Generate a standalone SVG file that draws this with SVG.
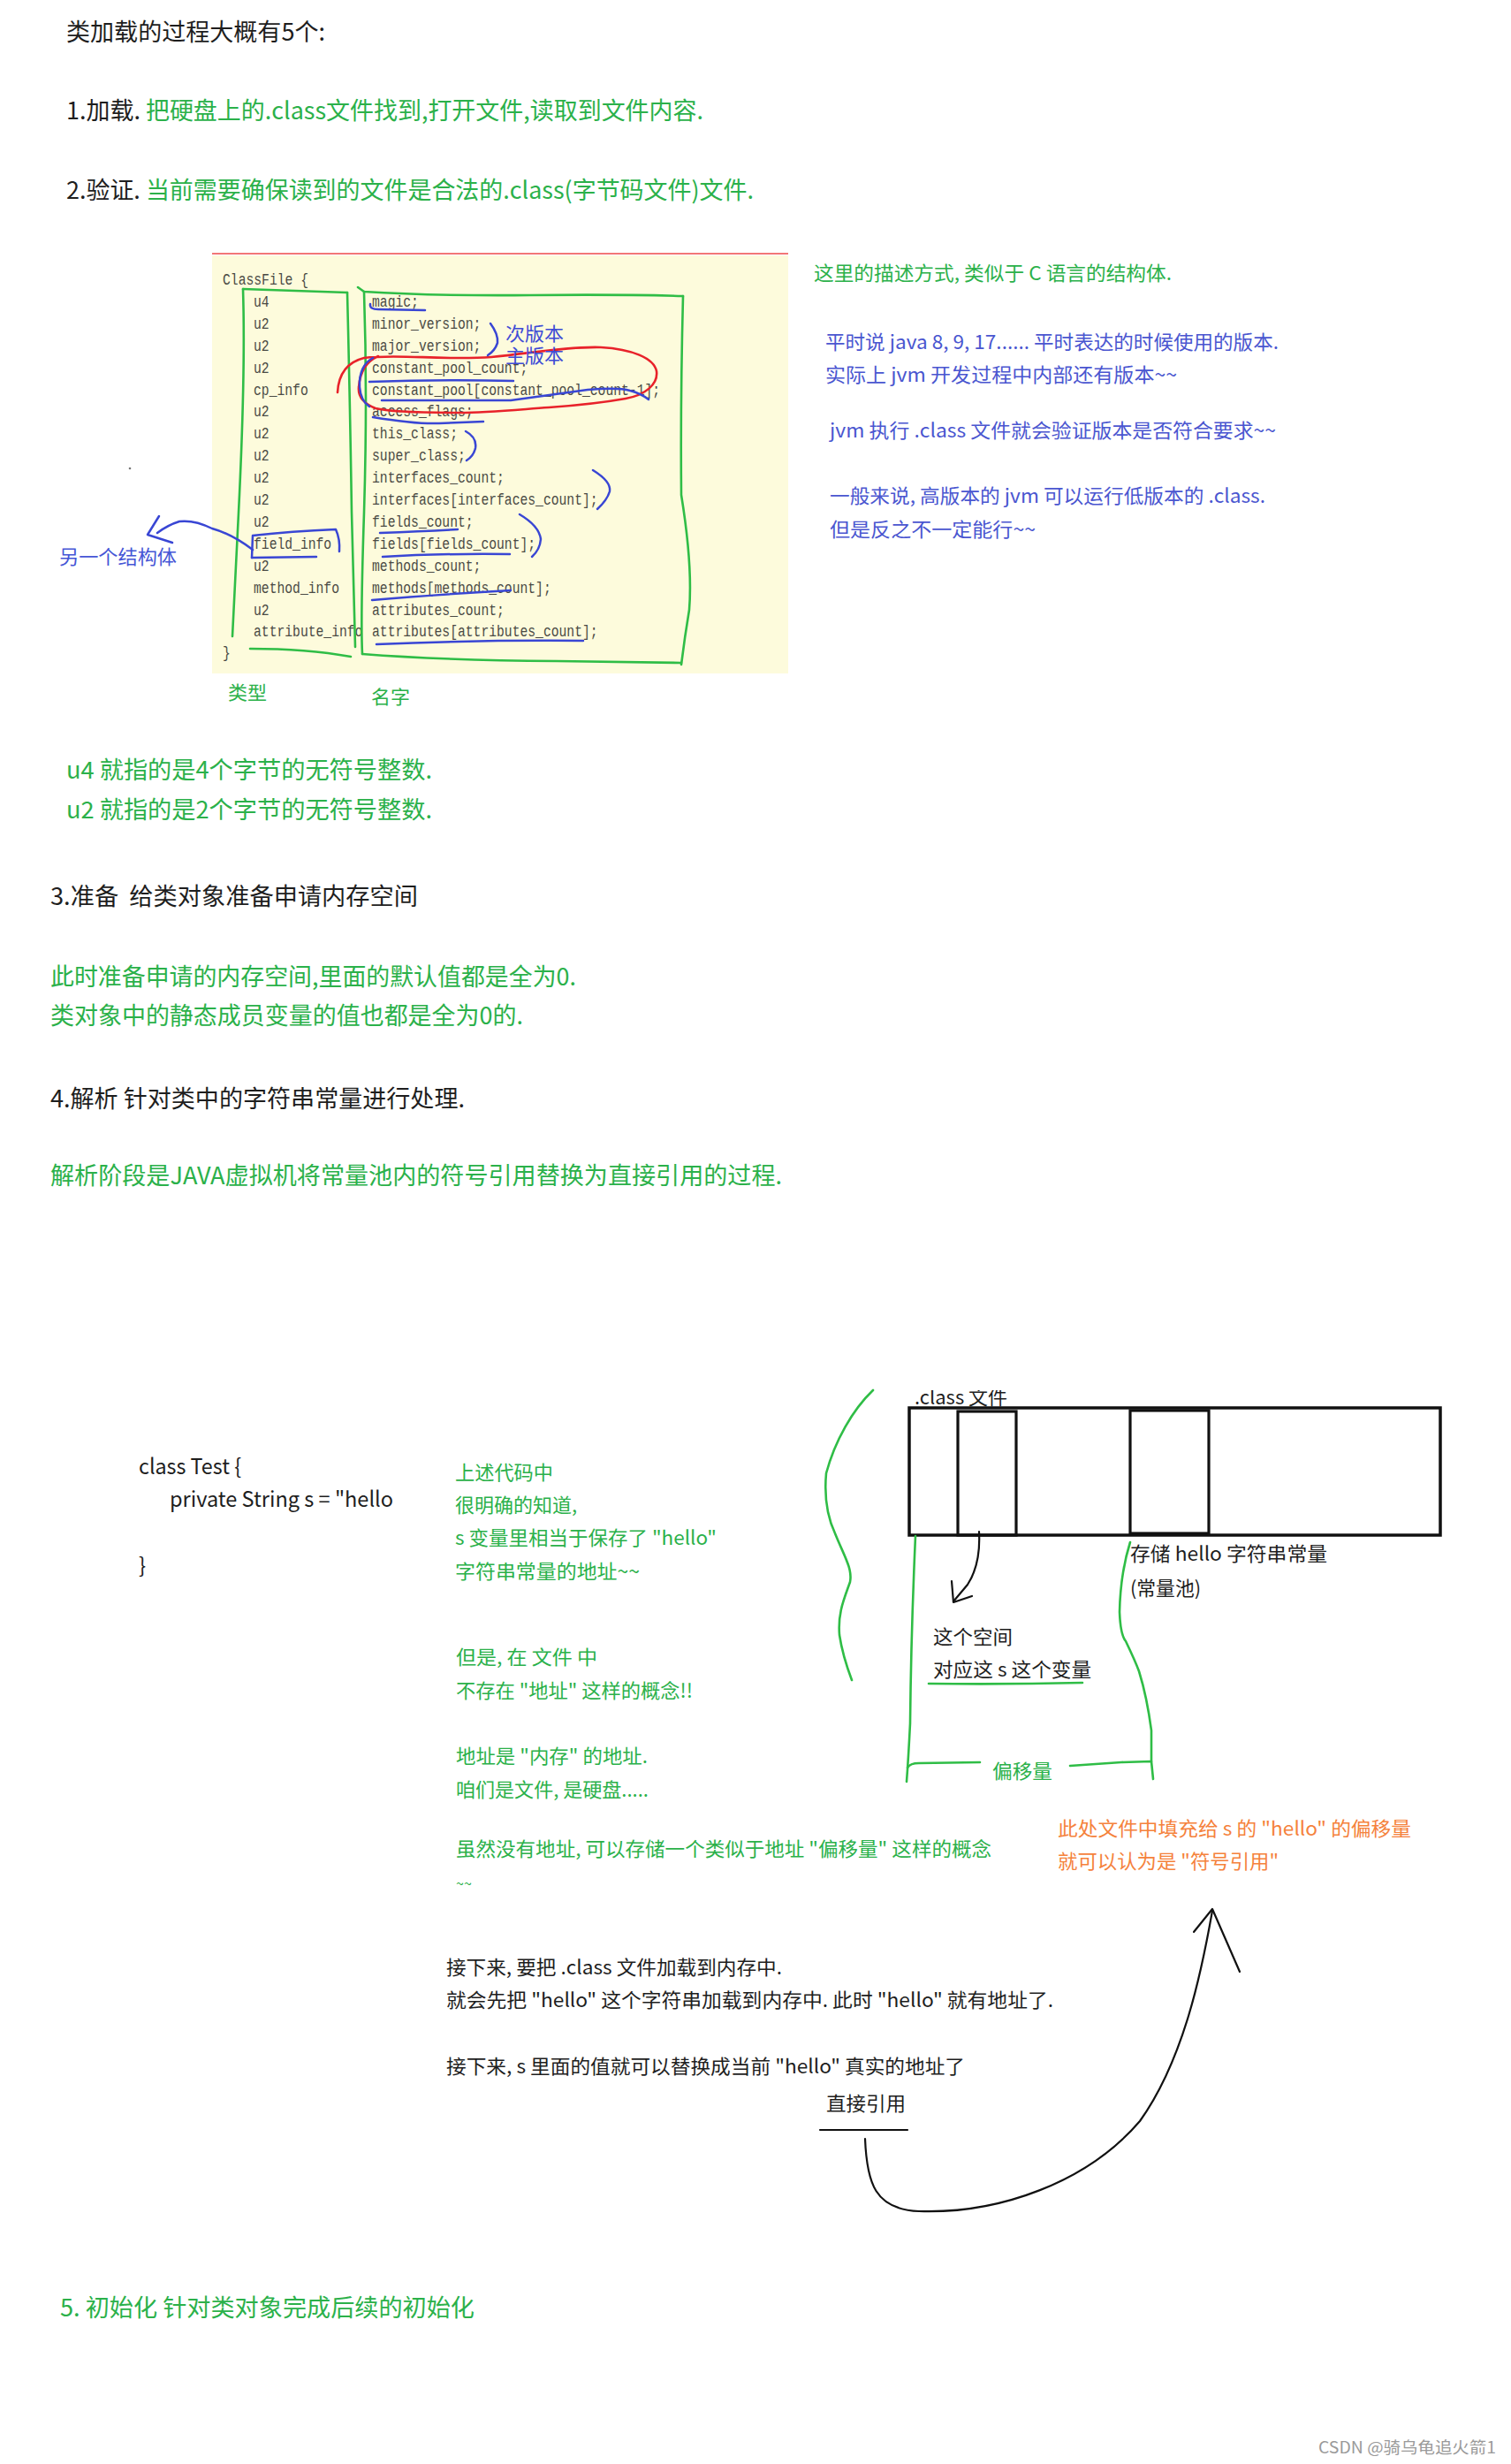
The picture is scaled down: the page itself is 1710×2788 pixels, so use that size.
<svg xmlns="http://www.w3.org/2000/svg" width="1710" height="2788" viewBox="0 0 1710 2788">
<style>
text{font-family:"Noto Sans CJK SC","Noto Sans",sans-serif;}
.k{fill:#1e1e1e}
.g{fill:#2bb14a}
.b{fill:#4a56d0}
.o{fill:#f5823c}
.h{font-size:27px}
.n{font-size:22px}
.mono{font-family:"Liberation Mono",monospace;font-size:17.6px;fill:#4a4a44}
.pg{fill:none;stroke:#2fbd46;stroke-width:2.6;stroke-linecap:round;stroke-linejoin:round}
.pb{fill:none;stroke:#3946d4;stroke-width:2.5;stroke-linecap:round;stroke-linejoin:round}
.pr{fill:none;stroke:#e8222a;stroke-width:2.6;stroke-linecap:round;stroke-linejoin:round}
.pk{fill:none;stroke:#111;stroke-width:2.2;stroke-linecap:round;stroke-linejoin:round}
</style>
<defs>
<clipPath id="clipTop"><rect x="1000" y="1573" width="300" height="40"/></clipPath>
</defs>
<rect width="1710" height="2788" fill="#ffffff"/>

<g id="intro">
<text class="k h" x="75" y="46" textLength="293" lengthAdjust="spacingAndGlyphs">类加载的过程大概有5个:</text>
<text class="h" x="75" y="135" textLength="721" lengthAdjust="spacingAndGlyphs"><tspan class="k">1.加载.</tspan><tspan class="g"> 把硬盘上的.class文件找到,打开文件,读取到文件内容.</tspan></text>
<text class="h" x="75" y="225" textLength="778" lengthAdjust="spacingAndGlyphs"><tspan class="k">2.验证.</tspan><tspan class="g"> 当前需要确保读到的文件是合法的.class(字节码文件)文件.</tspan></text>
</g>

<g id="classfile-image">
<rect x="240" y="289" width="652" height="473" fill="#fdfbdc"/>
<line x1="240" y1="287" x2="892" y2="287" stroke="#f27676" stroke-width="2"/>
<g transform="translate(252,0) scale(0.835,1)">
<text class="mono" x="0" y="322" fill="#5a5a55">ClassFile {</text>
<text class="mono" x="0" y="744" fill="#aaa">}</text>
</g>
<g id="types" transform="translate(287,0) scale(0.835,1)">
<text class="mono" x="0" y="347">u4</text>
<text class="mono" x="0" y="371.9">u2</text>
<text class="mono" x="0" y="396.8">u2</text>
<text class="mono" x="0" y="421.7">u2</text>
<text class="mono" x="0" y="446.6">cp_info</text>
<text class="mono" x="0" y="471.5">u2</text>
<text class="mono" x="0" y="496.4">u2</text>
<text class="mono" x="0" y="521.3">u2</text>
<text class="mono" x="0" y="546.2">u2</text>
<text class="mono" x="0" y="571.1">u2</text>
<text class="mono" x="0" y="596">u2</text>
<text class="mono" x="0" y="620.9">field_info</text>
<text class="mono" x="0" y="645.8">u2</text>
<text class="mono" x="0" y="670.7">method_info</text>
<text class="mono" x="0" y="695.6">u2</text>
<text class="mono" x="0" y="720.5">attribute_info</text>
</g>
<g id="names" transform="translate(421,0) scale(0.835,1)">
<text class="mono" x="0" y="347">magic;</text>
<text class="mono" x="0" y="371.9">minor_version;</text>
<text class="mono" x="0" y="396.8">major_version;</text>
<text class="mono" x="0" y="421.7">constant_pool_count;</text>
<text class="mono" x="0" y="446.6">constant_pool[constant_pool_count-1];</text>
<text class="mono" x="0" y="471.5">access_flags;</text>
<text class="mono" x="0" y="496.4">this_class;</text>
<text class="mono" x="0" y="521.3">super_class;</text>
<text class="mono" x="0" y="546.2">interfaces_count;</text>
<text class="mono" x="0" y="571.1">interfaces[interfaces_count];</text>
<text class="mono" x="0" y="596">fields_count;</text>
<text class="mono" x="0" y="620.9">fields[fields_count];</text>
<text class="mono" x="0" y="645.8">methods_count;</text>
<text class="mono" x="0" y="670.7">methods[methods_count];</text>
<text class="mono" x="0" y="695.6">attributes_count;</text>
<text class="mono" x="0" y="720.5">attributes[attributes_count];</text>
</g>

<g id="green-boxes">
<path class="pg" d="M275,327 Q330,329 393,331"/>
<path class="pg" d="M275,327 Q278,420 270,580 Q266,660 263,720"/>
<path class="pg" d="M393,331 Q396,450 398,580 Q400,660 402,732"/>
<path class="pg" d="M283,734 Q347,734 397,743"/>
<path class="pg" d="M405,325 L412,330 Q490,335 600,334 Q700,333 773,335"/>
<path class="pg" d="M412,330 Q416,450 412,580 Q408,700 410,740"/>
<path class="pg" d="M773,335 Q770,450 771,560 Q784,640 780,690 Q775,720 771,752"/>
<path class="pg" d="M410,740 Q500,747 630,748 L771,750"/>
</g>

<g id="red-loop">
<path class="pr" d="M382,444 C383,425 392,410 412,405 C450,400 500,408 556,404 C600,400 640,392 680,393 C715,395 740,405 743,420 C745,435 730,447 708,451 C680,456 650,459 621,461 C580,464 550,467 520,467 C480,467 440,466 425,462 C410,456 405,448 406,438 C407,425 412,410 428,403"/>
</g>

<g id="blue-marks">
<path class="pb" d="M419,344 Q418,350 428,350 L481,351"/>
<path class="pb" d="M555,366 Q564,378 563,388 Q560,397 552,402"/>
<path class="pb" d="M422,405 C412,410 406,422 407,438 C408,450 412,456 418,460"/>
<path class="pb" d="M418,432 Q500,429 581,431"/>
<path class="pb" d="M432,453 L578,453 Q630,446 665,441 Q700,438 713,442 Q725,445 734,452"/>
<path class="pb" d="M422,472 Q470,480 497,479 L547,477"/>
<path class="pb" d="M527,488 Q540,495 538,507 Q536,516 528,521"/>
<path class="pb" d="M671,532 Q692,545 690,556 Q687,566 676,576"/>
<path class="pb" d="M430,603 Q480,601 518,599"/>
<path class="pb" d="M433,630 Q500,626 577,627"/>
<path class="pb" d="M588,582 Q610,595 612,610 Q611,622 602,630"/>
<path class="pb" d="M285,631 L286,606 Q330,601 380,599 Q385,610 384,624"/>
<path class="pb" d="M285,631 L358,630"/>
<path class="pb" d="M421,679 Q491,673 578,668"/>
<path class="pb" d="M426,729 Q540,724 660,725"/>
<path class="pb" d="M286,622 Q262,604 240,598 Q220,588 203,590 Q190,594 178,603"/>
<path class="pb" d="M180,584 L167,605 L195,614"/>
<text x="572" y="385" font-size="21" fill="#3e4bd6" textLength="66" lengthAdjust="spacingAndGlyphs">次版本</text>
<text x="572" y="410" font-size="21" fill="#3e4bd6" textLength="66" lengthAdjust="spacingAndGlyphs">主版本</text>
</g>
<text class="g" x="258" y="791" font-size="21" textLength="44" lengthAdjust="spacingAndGlyphs">类型</text>
<text class="g" x="420" y="796" font-size="21" textLength="44" lengthAdjust="spacingAndGlyphs">名字</text>
</g>

<g id="other-struct-label">
<text x="67" y="638" font-size="22" fill="#4656d6" textLength="133" lengthAdjust="spacingAndGlyphs">另一个结构体</text>
<circle cx="147" cy="530" r="1.3" fill="#777"/>
</g>

<g id="side-notes">
<text class="g n" x="921" y="317" textLength="405" lengthAdjust="spacingAndGlyphs">这里的描述方式, 类似于 C 语言的结构体.</text>
<text class="b n" x="934" y="395" textLength="513" lengthAdjust="spacingAndGlyphs">平时说 java 8, 9, 17...... 平时表达的时候使用的版本.</text>
<text class="b n" x="934" y="432" textLength="398" lengthAdjust="spacingAndGlyphs">实际上 jvm 开发过程中内部还有版本~~</text>
<text class="b n" x="939" y="495" textLength="505" lengthAdjust="spacingAndGlyphs">jvm 执行 .class 文件就会验证版本是否符合要求~~</text>
<text class="b n" x="939" y="569" textLength="493" lengthAdjust="spacingAndGlyphs">一般来说, 高版本的 jvm 可以运行低版本的 .class.</text>
<text class="b n" x="939" y="607" textLength="233" lengthAdjust="spacingAndGlyphs">但是反之不一定能行~~</text>
</g>

<g id="steps">
<text class="g h" x="75" y="881" textLength="414" lengthAdjust="spacingAndGlyphs">u4 就指的是4个字节的无符号整数.</text>
<text class="g h" x="75" y="926" textLength="414" lengthAdjust="spacingAndGlyphs">u2 就指的是2个字节的无符号整数.</text>
<text class="k h" x="57" y="1024" textLength="416" lengthAdjust="spacingAndGlyphs" style="white-space:pre">3.准备  给类对象准备申请内存空间</text>
<text class="g h" x="57" y="1115" textLength="595" lengthAdjust="spacingAndGlyphs">此时准备申请的内存空间,里面的默认值都是全为0.</text>
<text class="g h" x="57" y="1159" textLength="535" lengthAdjust="spacingAndGlyphs">类对象中的静态成员变量的值也都是全为0的.</text>
<text class="k h" x="57" y="1253" textLength="469" lengthAdjust="spacingAndGlyphs">4.解析 针对类中的字符串常量进行处理.</text>
<text class="g h" x="57" y="1340" textLength="828" lengthAdjust="spacingAndGlyphs">解析阶段是JAVA虚拟机将常量池内的符号引用替换为直接引用的过程.</text>
<text class="g h" x="68" y="2621" textLength="469" lengthAdjust="spacingAndGlyphs">5. 初始化 针对类对象完成后续的初始化</text>
</g>

<g id="code">
<text class="k" x="157" y="1668" font-size="24" textLength="116" lengthAdjust="spacingAndGlyphs">class Test {</text>
<text class="k" x="192" y="1705" font-size="24" textLength="253" lengthAdjust="spacingAndGlyphs">private String s = "hello</text>
<text class="k" x="157" y="1780" font-size="24">}</text>
</g>

<g id="notes-green">
<text class="g n" x="515" y="1674" textLength="111" lengthAdjust="spacingAndGlyphs">上述代码中</text>
<text class="g n" x="515" y="1711" textLength="138" lengthAdjust="spacingAndGlyphs">很明确的知道,</text>
<text class="g n" x="515" y="1748" textLength="296" lengthAdjust="spacingAndGlyphs">s 变量里相当于保存了 "hello"</text>
<text class="g n" x="515" y="1786" textLength="209" lengthAdjust="spacingAndGlyphs">字符串常量的地址~~</text>
<text class="g n" x="516" y="1883" textLength="160" lengthAdjust="spacingAndGlyphs">但是, 在 文件 中</text>
<text class="g n" x="516" y="1921" textLength="268" lengthAdjust="spacingAndGlyphs">不存在 "地址" 这样的概念!!</text>
<text class="g n" x="516" y="1995" textLength="217" lengthAdjust="spacingAndGlyphs">地址是 "内存" 的地址.</text>
<text class="g n" x="516" y="2033" textLength="218" lengthAdjust="spacingAndGlyphs">咱们是文件, 是硬盘.....</text>
<text class="g n" x="516" y="2100" textLength="606" lengthAdjust="spacingAndGlyphs">虽然没有地址, 可以存储一个类似于地址 "偏移量" 这样的概念</text>
<text class="g" x="516" y="2137" font-size="16">~~</text>
</g>

<g id="classfile-diagram">
<text class="k n" x="1035" y="1589" clip-path="url(#clipTop)" textLength="105" lengthAdjust="spacingAndGlyphs">.class 文件</text>
<rect x="1029" y="1593" width="601" height="144" fill="none" stroke="#111" stroke-width="3.5"/>
<rect x="1084" y="1597" width="66" height="140" fill="none" stroke="#111" stroke-width="3.2"/>
<rect x="1279" y="1596" width="89" height="139" fill="none" stroke="#111" stroke-width="3.2"/>
<text class="k n" x="1279" y="1766" textLength="223" lengthAdjust="spacingAndGlyphs">存储 hello 字符串常量</text>
<text class="k n" x="1279" y="1805" textLength="80" lengthAdjust="spacingAndGlyphs">(常量池)</text>
<text class="k n" x="1056" y="1860" textLength="90" lengthAdjust="spacingAndGlyphs">这个空间</text>
<text class="k n" x="1056" y="1897" textLength="179" lengthAdjust="spacingAndGlyphs">对应这 s 这个变量</text>
<text class="g n" x="1123" y="2012" textLength="68" lengthAdjust="spacingAndGlyphs">偏移量</text>
</g>

<g id="connectors">
<path class="pk" d="M1108,1733 Q1110,1770 1095,1793 L1079,1812" stroke-width="1.8"/>
<path class="pk" d="M1077,1789 L1079,1813 L1100,1806" stroke-width="1.8"/>
<path class="pg" d="M988,1573 C965,1595 945,1630 935,1667 C932,1700 938,1720 945,1735 C955,1760 965,1775 962,1790 C955,1810 948,1825 950,1850 C953,1870 958,1885 964,1901"/>
<path class="pg" d="M1036,1738 Q1031,1850 1030,1950 Q1028,1990 1026,2016"/>
<path class="pg" d="M1027,2000 Q1030,1995 1040,1995 L1109,1994"/>
<path class="pg" d="M1211,1998 Q1240,1996 1269,1994 L1303,1993 L1305,2013"/>
<path class="pg" d="M1279,1745 Q1268,1780 1267,1824 Q1268,1850 1274,1857 Q1285,1880 1289,1891 Q1298,1920 1303,1958 L1303,1993"/>
<path class="pg" d="M1051,1905 Q1140,1906 1225,1904"/>
<path class="pk" d="M928,2410 L1027,2410"/>
<path class="pk" stroke-width="2.5" d="M979,2420 C981,2470 990,2500 1040,2502 C1130,2505 1230,2470 1290,2400 C1340,2330 1360,2230 1372,2162"/>
<path class="pk" stroke-width="2.5" d="M1351,2186 L1372,2160 L1403,2231"/>
</g>

<g id="notes-orange">
<text class="o n" x="1197" y="2077" textLength="400" lengthAdjust="spacingAndGlyphs">此处文件中填充给 s 的 "hello" 的偏移量</text>
<text class="o n" x="1197" y="2114" textLength="250" lengthAdjust="spacingAndGlyphs">就可以认为是 "符号引用"</text>
</g>

<g id="notes-black">
<text class="k n" x="505" y="2234" textLength="380" lengthAdjust="spacingAndGlyphs">接下来, 要把 .class 文件加载到内存中.</text>
<text class="k n" x="505" y="2271" textLength="687" lengthAdjust="spacingAndGlyphs">就会先把 "hello" 这个字符串加载到内存中. 此时 "hello" 就有地址了.</text>
<text class="k n" x="505" y="2346" textLength="587" lengthAdjust="spacingAndGlyphs">接下来, s 里面的值就可以替换成当前 "hello" 真实的地址了</text>
<text class="k n" x="935" y="2388" textLength="90" lengthAdjust="spacingAndGlyphs">直接引用</text>
</g>

<text x="1492" y="2776" font-size="18" fill="#9a9a9a" textLength="201" lengthAdjust="spacingAndGlyphs">CSDN @骑乌龟追火箭1</text>
</svg>
